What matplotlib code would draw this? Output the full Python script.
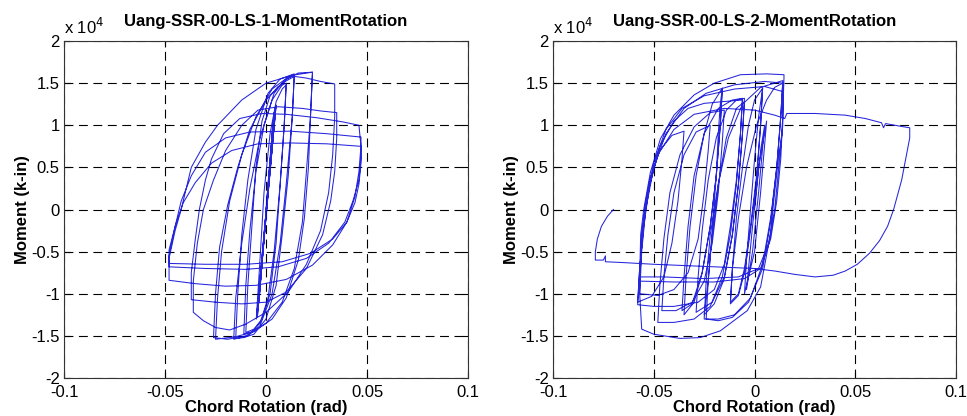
import numpy as np
import matplotlib
matplotlib.use("Agg")
import matplotlib.pyplot as plt
from matplotlib.ticker import FuncFormatter

plt.rcParams['font.family'] = ['Liberation Sans', 'DejaVu Sans']

# ---- LS-1 : (chord rotation [rad], moment [k-in]) ----
ls1_elastic = [(0, 0), (0.0035, 10500), (-0.0035, -11000), (0.004, 11500), (-0.004, -12000),
               (0.0045, 12000), (-0.0042, -12500), (0.0048, 12200), (-0.0045, -12800),
               (0.005, 12400), (-0.0046, -12600), (0.0047, 12100), (-0.0048, -13000)]
ls1_cyc010 = [(-0.003, -6000), (-0.001, 2000), (0.002, 9000), (0.005, 12800), (0.008, 14300), (0.010, 14800),
              (0.009, 10000), (0.007, 3000), (0.005, -4000), (0.002, -10000), (-0.002, -13000), (-0.006, -14200), (-0.010, -14600),
              (-0.009, -9000), (-0.007, -2000), (-0.005, 5000), (-0.002, 10500), (0.002, 13500), (0.006, 14600), (0.010, 15000),
              (0.009, 10000), (0.007, 3000), (0.004, -5000), (0.001, -10500), (-0.003, -13500), (-0.007, -14500), (-0.011, -14800)]
ls1_cyc015 = [(-0.010, -9000), (-0.008, -2500), (-0.005, 4500), (-0.001, 10000), (0.004, 13800), (0.009, 15300), (0.014, 16000),
              (0.013, 11000), (0.011, 4000), (0.008, -3000), (0.005, -9000), (0.0, -13000), (-0.006, -14800), (-0.011, -15200), (-0.015, -15300),
              (-0.014, -10000), (-0.012, -3000), (-0.009, 3500), (-0.005, 9500), (0.001, 13800), (0.007, 15500), (0.014, 16100),
              (0.013, 11000), (0.010, 3000), (0.007, -4000), (0.003, -10000), (-0.003, -13800), (-0.009, -15000), (-0.016, -15400)]
ls1_cyc025 = [(-0.015, -10500), (-0.012, -4000), (-0.008, 2500), (-0.003, 8500), (0.003, 13000), (0.010, 15500), (0.016, 16200), (0.023, 16300),
              (0.022, 11000), (0.021, 5000), (0.019, -1000), (0.016, -6000), (0.010, -10500), (0.003, -13000), (-0.006, -14500), (-0.015, -15100), (-0.025, -15400),
              (-0.024, -10500), (-0.022, -5000), (-0.018, 1000), (-0.012, 6500), (-0.005, 11000), (0.003, 14300), (0.012, 15900), (0.023, 16300),
              (0.022, 11000), (0.020, 4500), (0.018, -1500), (0.014, -7000), (0.008, -11000), (0.0, -13500), (-0.010, -15000), (-0.019, -15400), (-0.026, -15200)]
ls1_cyc035 = [(-0.025, -10000), (-0.023, -4500), (-0.019, 500), (-0.014, 5000), (-0.008, 9500), (0.0, 13000), (0.008, 15000), (0.014, 15800),
              (0.020, 15600), (0.027, 15200), (0.034, 14900),
              (0.034, 11000), (0.033, 6500), (0.031, 2000), (0.027, -2500), (0.020, -6500), (0.011, -9800), (0.0, -12200), (-0.010, -13600),
              (-0.018, -14300), (-0.025, -14000), (-0.031, -13200), (-0.036, -12200),
              (-0.036, -8500), (-0.034, -4000), (-0.031, 0), (-0.026, 3500), (-0.020, 7000), (-0.012, 10000), (-0.004, 11800), (0.006, 12200),
              (0.018, 12000), (0.027, 11700), (0.035, 11500),
              (0.035, 8500), (0.034, 4500), (0.032, 1000), (0.028, -3000), (0.020, -7000), (0.010, -9800), (0.0, -11000), (-0.012, -11200),
              (-0.025, -11000), (-0.037, -10700)]
ls1_cyc047 = [(-0.037, -7500), (-0.035, -3500), (-0.033, 0), (-0.030, 3500), (-0.027, 6000), (-0.021, 9000), (-0.013, 10800), (-0.002, 11400),
              (0.010, 11300), (0.025, 10900), (0.038, 10400), (0.046, 10000),
              (0.047, 7500), (0.046, 4500), (0.044, 1500), (0.040, -1500), (0.033, -4200), (0.023, -6600), (0.010, -8300), (-0.005, -9000),
              (-0.020, -9100), (-0.035, -8800), (-0.048, -8400),
              (-0.048, -5500), (-0.045, -2000), (-0.042, 1000), (-0.037, 4000), (-0.030, 6800), (-0.020, 8500), (-0.008, 9200), (0.012, 9300),
              (0.030, 9000), (0.047, 8600),
              (0.047, 6000), (0.046, 3500), (0.043, 1000), (0.039, -1500), (0.031, -4000), (0.020, -5800), (0.006, -6800), (-0.010, -7100),
              (-0.030, -7000), (-0.048, -6800),
              (-0.048, -4800), (-0.045, -2000), (-0.041, 800), (-0.035, 3200), (-0.027, 5500), (-0.017, 7000), (-0.004, 7800), (0.012, 7900),
              (0.030, 7800), (0.047, 7500),
              (0.047, 5500), (0.046, 3000), (0.044, 800), (0.040, -1500), (0.033, -3500), (0.022, -5200), (0.008, -6200), (-0.010, -6500),
              (-0.030, -6500), (-0.048, -6400),
              (-0.048, -5800), (-0.045, -2500), (-0.042, 0), (-0.037, 5000), (-0.030, 8000), (-0.024, 10000), (-0.012, 13000),
              (0.0, 15000), (0.014, 16000)]

# ---- LS-2 ----
ls2_small = [(0, 0), (0.003, 7000), (0.005, 10000), (0.002, 2000), (-0.001, -5000), (-0.004, -9500),
             (-0.001, -2000), (0.002, 5000), (0.006, 10500), (0.003, 2000), (0.0, -5000), (-0.005, -10000)]
ls2_g1 = [(-0.004, -6000), (-0.002, 0), (0.0, 6000), (0.002, 11000), (0.004, 14400),
          (0.003, 10000), (0.001, 4000), (-0.002, -2000), (-0.005, -7000), (-0.008, -10000), (-0.012, -11000),
          (-0.011, -7000), (-0.009, -1000), (-0.006, 5000), (-0.003, 10000), (0.0, 13000), (0.004, 14400),
          (0.003, 10000), (0.001, 3500), (-0.002, -2500), (-0.005, -7500), (-0.008, -10200), (-0.012, -11200)]
ls2_g2 = [(-0.011, -7000), (-0.008, -1000), (-0.004, 5000), (0.001, 10000), (0.006, 13000), (0.010, 14500), (0.014, 15000),
          (0.013, 11000), (0.011, 5000), (0.008, -1000), (0.004, -6500), (-0.002, -10500), (-0.010, -12500), (-0.018, -13000), (-0.025, -13000),
          (-0.024, -8500), (-0.022, -3000), (-0.018, 3000), (-0.013, 8500), (-0.006, 12500), (0.003, 14500), (0.014, 15300),
          (0.013, 11000), (0.011, 5000), (0.008, -1500), (0.004, -7000), (-0.003, -11000), (-0.011, -12800), (-0.018, -13200), (-0.024, -13000)]
ls2_g2b = [(-0.023, -8500), (-0.021, -3000), (-0.018, 3000), (-0.014, 8500), (-0.009, 12000), (-0.005, 12800),
           (-0.006, 9000), (-0.008, 3000), (-0.011, -3000), (-0.015, -8000), (-0.021, -11000), (-0.029, -12200),
           (-0.028, -8000), (-0.026, -2500), (-0.023, 3500), (-0.019, 8500), (-0.014, 11800), (-0.009, 13000), (-0.005, 13200),
           (-0.006, 9000), (-0.008, 3000), (-0.011, -3000), (-0.015, -8200), (-0.020, -11200), (-0.025, -12500)]
ls2_g3 = [(-0.023, -8500), (-0.021, -2500), (-0.019, 4000), (-0.018, 9000), (-0.017, 12500), (-0.016, 14400),
          (-0.017, 10000), (-0.019, 4000), (-0.022, -2000), (-0.026, -7500), (-0.030, -11000), (-0.035, -12500),
          (-0.034, -8000), (-0.032, -2000), (-0.029, 4000), (-0.025, 9000), (-0.021, 12500), (-0.016, 14400),
          (-0.017, 10000), (-0.019, 4000), (-0.022, -2000), (-0.026, -7500), (-0.031, -11200), (-0.036, -12000)]
ls2_g4 = [(-0.035, -8000), (-0.033, -2000), (-0.030, 4000), (-0.025, 9000), (-0.018, 12000), (-0.011, 13000), (-0.006, 13200),
          (-0.007, 9000), (-0.009, 3000), (-0.012, -3000), (-0.016, -8000), (-0.022, -11500), (-0.030, -13000), (-0.040, -13400), (-0.048, -13400),
          (-0.047, -9000), (-0.045, -3500), (-0.042, 2000), (-0.037, 6500), (-0.030, 9800), (-0.022, 11500), (-0.015, 11800),
          (-0.016, 8000), (-0.018, 2000), (-0.021, -4000), (-0.025, -8500), (-0.031, -11000), (-0.039, -12000), (-0.046, -12000),
          (-0.045, -8000), (-0.043, -3000), (-0.040, 2000), (-0.035, 6500), (-0.029, 9200), (-0.022, 10000),
          (-0.023, 7000), (-0.025, 2000), (-0.028, -3500), (-0.033, -7500), (-0.040, -9500), (-0.048, -10200), (-0.057, -10000)]
ls2_g6 = [(-0.0565, -6000), (-0.055, -1000), (-0.052, 3500), (-0.047, 7000), (-0.041, 8800), (-0.035, 9300),
          (-0.036, 6000), (-0.038, 1000), (-0.041, -4000), (-0.045, -8000), (-0.051, -10300), (-0.058, -11000),
          (-0.057, -7000), (-0.055, -2000), (-0.052, 3000), (-0.047, 7500), (-0.040, 10500), (-0.033, 12000),
          (-0.025, 12600), (-0.016, 12800), (-0.006, 13000),
          (-0.007, 9000), (-0.009, 3500), (-0.012, -2000), (-0.015, -6500), (-0.020, -9500), (-0.028, -11000),
          (-0.040, -11500), (-0.050, -11500), (-0.058, -11300)]
ls2_g5 = [(-0.0568, -6000), (-0.0565, -3000), (-0.055, 0), (-0.0517, 4400), (-0.0467, 8400), (-0.040, 11200), (-0.030, 13600),
          (-0.020, 15000), (-0.007, 16000), (0.006, 16100), (0.0146, 16000),
          (0.0146, 15600), (0.0137, 9200), (0.012, 6400), (0.0096, 1200), (0.008, -2800), (0.003, -9200), (-0.0036, -12000),
          (-0.017, -14400), (-0.027, -15200), (-0.037, -15300), (-0.050, -14800), (-0.056, -14200),
          (-0.057, -10000), (-0.056, -5000), (-0.054, 0), (-0.050, 5000), (-0.044, 9000), (-0.035, 12000), (-0.024, 13800),
          (-0.010, 14800), (0.005, 15200), (0.014, 15000),
          (0.014, 11000), (0.013, 6000), (0.011, 1000), (0.008, -3500), (0.003, -7000), (-0.005, -8200), (-0.020, -8600),
          (-0.040, -8600), (-0.057, -8500),
          (-0.056, -4000), (-0.054, 1000), (-0.050, 5500), (-0.044, 9500), (-0.036, 12000), (-0.025, 13500), (-0.010, 14300),
          (0.005, 14600), (0.014, 14000),
          (0.014, 10000), (0.012, 5000), (0.010, 0), (0.007, -4000), (0.002, -7000), (-0.008, -8000), (-0.025, -8200),
          (-0.045, -8000), (-0.057, -8000),
          (-0.056, -3000), (-0.053, 2000), (-0.048, 6500), (-0.040, 9500), (-0.030, 11300), (-0.015, 12000), (0.0, 11800),
          (0.010, 11200), (0.015, 10800)]
ls2_final = [(0.016, 11400), (0.030, 11400), (0.045, 11200), (0.055, 10800), (0.063, 10300), (0.064, 9700), (0.065, 10200),
             (0.072, 9900), (0.077, 9700), (0.077, 8500), (0.075, 6000), (0.073, 3500), (0.069, 0), (0.066, -2000),
             (0.062, -3700), (0.057, -5200), (0.051, -6500), (0.045, -7300), (0.039, -7800), (0.030, -8000), (0.020, -7700),
             (0.010, -7300), (0.0, -7000), (-0.010, -6900), (-0.030, -6700), (-0.050, -6500), (-0.065, -6300), (-0.074, -6200),
             (-0.074, -5500), (-0.075, -6000), (-0.079, -6000), (-0.079, -5000), (-0.078, -3500), (-0.076, -2000),
             (-0.073, -800), (-0.070, 0)]

panels = [
    ("Uang-SSR-00-LS-1-MomentRotation",
     ls1_elastic + ls1_cyc010 + ls1_cyc015 + ls1_cyc025 + ls1_cyc035 + ls1_cyc047),
    ("Uang-SSR-00-LS-2-MomentRotation",
     ls2_small + ls2_g1 + ls2_g2 + ls2_g2b + ls2_g3 + ls2_g4 + ls2_g6 + ls2_g5 + ls2_final),
]

xticks = [-0.1, -0.05, 0, 0.05, 0.1]
yticks = [-2, -1.5, -1, -0.5, 0, 0.5, 1, 1.5, 2]

fig = plt.figure(figsize=(9.67, 4.16), dpi=100)
rects = [[0.0662, 0.0913, 0.4178, 0.8101], [0.5719, 0.0913, 0.4168, 0.8101]]

fmt = FuncFormatter(lambda v, p: "%g" % v)

for rect, (title, path) in zip(rects, panels):
    ax = fig.add_axes(rect)
    rot = np.array([p[0] for p in path])
    mom = np.array([p[1] for p in path]) / 1e4
    ax.plot(rot, mom, color=(0.05, 0.05, 0.85), lw=0.75, alpha=0.9)

    ax.set_xlim(-0.1, 0.1)
    ax.set_ylim(-2, 2)
    ax.set_xticks(xticks)
    ax.set_yticks(yticks)
    ax.xaxis.set_major_formatter(fmt)
    ax.yaxis.set_major_formatter(fmt)
    ax.tick_params(direction='in', length=4, labelsize=12, width=0.8)
    ax.tick_params(axis='x', pad=5)
    ax.tick_params(axis='y', pad=3)
    ax.tick_params(top=True, right=True)
    ax.grid(True, color='k', linestyle=(0, (8, 5)), linewidth=0.8)
    for s in ax.spines.values():
        s.set_linewidth(0.8)
        s.set_color('#333333')

    ax.set_title(title, fontsize=12, fontweight='bold', pad=11)
    ax.set_xlabel('Chord Rotation (rad)', fontsize=12, fontweight='bold', labelpad=0)
    ax.set_ylabel('Moment (k-in)', fontsize=12, fontweight='bold', labelpad=1)
    ax.text(0.0, 1.012, r'x 10$^4$', transform=ax.transAxes, fontsize=12,
            ha='left', va='bottom')

fig.savefig('out.png', dpi=100)
